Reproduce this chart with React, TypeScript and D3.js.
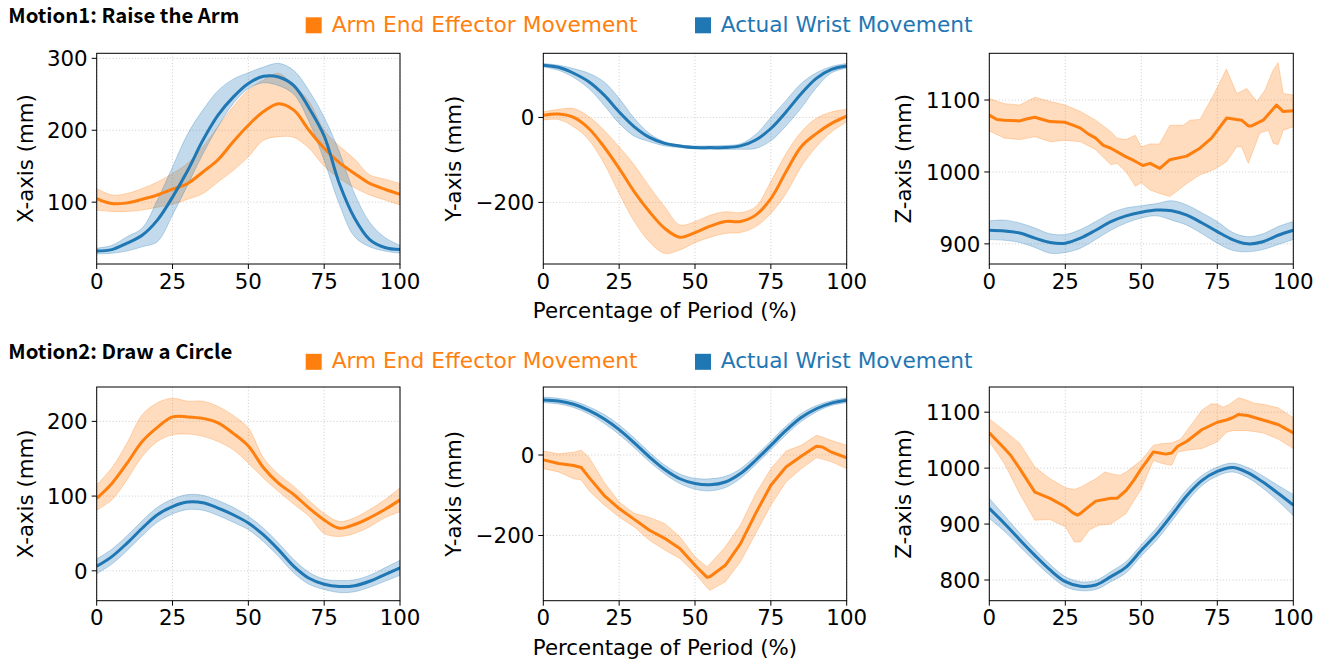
import React from 'react';
import * as d3 from 'd3';

// percentage of period, sampling grid used for the smooth traces
const pct = [0, 5, 10, 15, 20, 25, 30, 35, 40, 45, 50, 55, 60, 65, 70, 75, 80, 85, 90, 95, 100];

// ---- Motion1: Raise the Arm ----
// X-axis
const m1xBlue = [32, 34, 43, 54, 75, 107, 144, 186, 221, 246, 265, 275, 274, 262, 231, 192, 126, 78, 48, 37, 34];
const m1xBlueHi = [36, 40, 52, 64, 103, 149, 195, 228, 255, 271, 280, 288, 293, 283, 255, 218, 170, 112, 72, 51, 40];
const m1xBlueLo = [28, 29, 32, 38, 45, 82, 124, 167, 205, 237, 258, 266, 262, 250, 212, 158, 97, 52, 38, 32, 29];
const m1xOrange = [105, 98, 99, 104, 110, 118, 126, 142, 159, 184, 207, 226, 237, 228, 200, 175, 155, 140, 126, 118, 111];
const m1xOrangeHi = [119, 110, 112, 119, 128, 140, 154, 177, 205, 233, 256, 270, 279, 262, 240, 200, 178, 160, 138, 132, 126];
const m1xOrangeLo = [89, 87, 87, 89, 93, 97, 104, 112, 128, 144, 163, 186, 191, 190, 175, 150, 133, 120, 110, 103, 96];

// Y-axis
const m1yBlue = [123, 118, 104, 84, 53, 13, -22, -47, -61, -67, -71, -71, -71, -67, -53, -26, 13, 56, 92, 113, 121];
const m1yBlueHi = [127, 123, 115, 104, 84, 45, -2, -38, -57, -65, -67, -67, -66, -62, -40, 0, 40, 80, 105, 120, 127];
const m1yBlueLo = [119, 111, 94, 68, 29, -14, -44, -57, -67, -71, -74, -75, -75, -75, -73, -55, -20, 22, 70, 105, 116];
const m1yOrange = [5, 8, 0, -26, -69, -120, -175, -222, -261, -282, -271, -256, -245, -245, -230, -191, -128, -69, -38, -14, 3];
const m1yOrangeHi = [13, 19, 21, 2, -30, -69, -112, -163, -210, -253, -245, -230, -222, -224, -210, -151, -85, -34, -2, 13, 19];
const m1yOrangeLo = [-6, -5, -22, -53, -108, -179, -245, -293, -320, -312, -295, -282, -273, -271, -257, -226, -179, -116, -69, -34, -10];

// Z-axis
const m1zBlue = [919, 918, 915, 908, 902, 901, 908, 919, 931, 939, 944, 947, 946, 940, 929, 917, 906, 900, 903, 912, 919];
const m1zBlueHi = [932, 933, 929, 922, 914, 913, 920, 931, 943, 950, 953, 956, 960, 954, 943, 931, 916, 910, 914, 924, 931];
const m1zBlueLo = [906, 905, 902, 895, 887, 888, 894, 906, 919, 929, 936, 939, 933, 926, 914, 901, 891, 889, 892, 899, 906];
const m1zOrangeX = [0, 2.5, 5, 10, 12.5, 15, 17.5, 20, 25, 27.5, 30, 32.5, 35, 37.5, 40, 45, 47.5, 50.5, 52.9, 56.1, 59.4, 64.9, 69.3, 73.1, 78.1, 83, 85.2, 86.3, 90.1, 94.5, 96.7, 100];
const m1zOrange = [1079, 1073, 1072, 1071, 1074, 1076, 1073, 1070, 1069, 1065, 1061, 1053, 1047, 1037, 1033, 1021, 1016, 1009, 1012, 1005, 1017, 1022, 1033, 1047, 1075, 1072, 1064, 1064, 1072, 1093, 1084, 1085];
const m1zOrangeHiX = [0, 5, 10, 15, 20, 25, 30, 35, 40, 42, 45, 48, 50, 52.9, 56, 59.4, 63.8, 66, 69.3, 73.5, 78, 81.4, 84.7, 88, 90.7, 93.4, 95, 96.7, 100];
const m1zOrangeHi = [1102, 1095, 1093, 1104, 1098, 1093, 1084, 1072, 1056, 1047, 1045, 1051, 1035, 1039, 1039, 1065, 1065, 1072, 1073, 1105, 1143, 1109, 1116, 1098, 1114, 1142, 1152, 1109, 1107];
const m1zOrangeLoX = [0, 5, 10, 15, 20, 25, 30, 35, 40, 42, 45, 47, 48, 50, 52.9, 56, 59.4, 65, 69.3, 72, 74.6, 78, 81.4, 83, 85.2, 89, 91.8, 93.4, 95, 96.7, 100];
const m1zOrangeLo = [1057, 1047, 1045, 1049, 1042, 1044, 1042, 1031, 1010, 1012, 1000, 987, 980, 985, 975, 970, 966, 984, 996, 1000, 1005, 1014, 1035, 1035, 1012, 1054, 1058, 1040, 1038, 1058, 1063];

// ---- Motion2: Draw a Circle ----
// X-axis
const m2xBlue = [6, 19, 37, 57, 75, 86, 92, 91, 84, 75, 64, 48, 28, 6, -10, -18, -21, -20, -14, -5, 4];
const m2xBlueHi = [16, 29, 47, 67, 85, 96, 102, 101, 94, 85, 73, 57, 37, 15, -2, -11, -13, -12, -6, 4, 14];
const m2xBlueLo = [-4, 9, 27, 47, 65, 76, 82, 81, 74, 65, 55, 39, 19, -3, -18, -25, -29, -28, -22, -14, -6];
const m2xOrange = [97, 117, 144, 173, 192, 206, 206, 204, 198, 184, 167, 138, 117, 102, 84, 68, 57, 62, 71, 82, 95];
const m2xOrangeHi = [115, 138, 171, 209, 225, 231, 227, 227, 220, 208, 191, 151, 129, 113, 94, 77, 66, 71, 82, 95, 111];
const m2xOrangeLo = [81, 95, 122, 153, 173, 182, 183, 180, 173, 162, 144, 124, 106, 89, 73, 50, 46, 50, 59, 71, 79];

// Y-axis
const m2yBlue = [137, 134, 126, 111, 90, 63, 30, -5, -36, -59, -71, -74, -67, -46, -13, 24, 61, 93, 115, 129, 136];
const m2yBlueHi = [144, 141, 134, 120, 101, 75, 42, 7, -25, -47, -58, -59, -53, -34, -2, 35, 72, 103, 123, 135, 142];
const m2yBlueLo = [130, 127, 118, 102, 79, 51, 18, -17, -47, -71, -85, -89, -81, -58, -24, 13, 50, 83, 107, 123, 130];
const m2yOrangeX = [0, 5, 10, 12.5, 15, 20, 25, 30, 35, 40, 45, 50, 54, 55, 60, 65, 70, 75, 80, 85, 90, 92, 95, 100];
const m2yOrange = [-12, -21, -26, -31, -55, -100, -133, -160, -187, -207, -232, -274, -304, -302, -274, -220, -145, -75, -30, -3, 22, 20, 7, -7];
const m2yOrangeHi = [10, 3, 7, 12, -5, -67, -117, -145, -155, -170, -203, -253, -278, -270, -228, -174, -96, -34, 10, 24, 49, 45, 36, 24];
const m2yOrangeLo = [-34, -42, -59, -62, -88, -124, -154, -179, -212, -236, -257, -294, -330, -336, -315, -265, -195, -125, -67, -34, -7, -10, -17, -34];

// Z-axis
const m2zBlue = [928, 901, 872, 844, 818, 797, 789, 791, 806, 823, 853, 882, 916, 951, 978, 994, 1001, 992, 975, 955, 934];
const m2zBlueHi = [946, 915, 884, 855, 828, 806, 797, 799, 815, 833, 863, 893, 927, 962, 987, 1002, 1009, 1001, 986, 969, 953];
const m2zBlueLo = [910, 887, 860, 833, 808, 788, 781, 783, 797, 813, 843, 871, 905, 940, 969, 986, 993, 983, 964, 941, 915];
const m2zOrangeX = [0, 5, 7, 10, 15, 20, 25, 27.5, 29, 30, 32, 35, 40, 42, 45, 47.5, 50, 52, 54, 56, 58, 60, 62, 65, 70, 75, 78, 80, 82, 85, 90, 95, 100];
const m2zOrange = [1063, 1035, 1023, 999, 957, 946, 931, 920, 916, 919, 928, 941, 946, 946, 960, 978, 999, 1014, 1029, 1027, 1025, 1027, 1039, 1048, 1069, 1082, 1086, 1090, 1096, 1094, 1086, 1078, 1063];
const m2zOrangeHiX = [0, 5, 10, 15, 20, 25, 28, 30, 35, 38, 40, 43, 45, 50, 54, 57, 60, 63, 65, 70, 73, 75, 77, 79, 82, 85, 87, 90, 95, 100];
const m2zOrangeHi = [1088, 1067, 1044, 1002, 981, 965, 962, 966, 981, 993, 990, 987, 993, 1014, 1041, 1044, 1045, 1052, 1067, 1104, 1115, 1114, 1109, 1114, 1126, 1121, 1116, 1114, 1108, 1090];
const m2zOrangeLoX = [0, 5, 10, 15, 20, 25, 28, 30, 33, 36, 40, 45, 50, 54, 57, 60, 62, 65, 70, 75, 78, 80, 85, 90, 95, 100];
const m2zOrangeLo = [1047, 1008, 954, 907, 908, 895, 868, 868, 890, 898, 900, 919, 963, 1014, 1008, 1005, 1029, 1032, 1035, 1047, 1064, 1067, 1067, 1063, 1052, 1035];

// axis limits and ticks
const xTicks = [0, 25, 50, 75, 100];
const yDomains = [[14, 307], [-345, 151], [872, 1165], [-40, 246], [-362, 169], [763, 1145]];
const yTicksList = [[100, 200, 300], [-200, 0], [900, 1000, 1100], [0, 100, 200], [-200, 0], [800, 900, 1000, 1100]];
const yLabels = ['X-axis (mm)', 'Y-axis (mm)', 'Z-axis (mm)', 'X-axis (mm)', 'Y-axis (mm)', 'Z-axis (mm)'];
const titles = ['Motion1: Raise the Arm', 'Motion2: Draw a Circle'];
const legendNames = ['Arm End Effector Movement', 'Actual Wrist Movement'];
const xLabel = 'Percentage of Period (%)';

const ORANGE = '#ff7f0e';
const BLUE = '#1f77b4';
const FONT = 'DejaVu Sans, sans-serif';
const FS = 21.33;

const colLeft = [96.7, 543.3, 989.3];
const colRight = [400, 846.7, 1293.3];
const rowTop = [53.3, 387];
const rowBottom = [264, 600.7];
const yLabelX = [32.5, 461, 911];
const rowShift = 336.5;

type Trace = { x: number[]; y: number[] };
type Series = { color: string; mean: Trace; hi: Trace; lo: Trace; smooth: boolean };

const panels: Series[][] = [
  [
    { color: ORANGE, smooth: true, mean: { x: pct, y: m1xOrange }, hi: { x: pct, y: m1xOrangeHi }, lo: { x: pct, y: m1xOrangeLo } },
    { color: BLUE, smooth: true, mean: { x: pct, y: m1xBlue }, hi: { x: pct, y: m1xBlueHi }, lo: { x: pct, y: m1xBlueLo } },
  ],
  [
    { color: ORANGE, smooth: true, mean: { x: pct, y: m1yOrange }, hi: { x: pct, y: m1yOrangeHi }, lo: { x: pct, y: m1yOrangeLo } },
    { color: BLUE, smooth: true, mean: { x: pct, y: m1yBlue }, hi: { x: pct, y: m1yBlueHi }, lo: { x: pct, y: m1yBlueLo } },
  ],
  [
    { color: ORANGE, smooth: false, mean: { x: m1zOrangeX, y: m1zOrange }, hi: { x: m1zOrangeHiX, y: m1zOrangeHi }, lo: { x: m1zOrangeLoX, y: m1zOrangeLo } },
    { color: BLUE, smooth: true, mean: { x: pct, y: m1zBlue }, hi: { x: pct, y: m1zBlueHi }, lo: { x: pct, y: m1zBlueLo } },
  ],
  [
    { color: ORANGE, smooth: true, mean: { x: pct, y: m2xOrange }, hi: { x: pct, y: m2xOrangeHi }, lo: { x: pct, y: m2xOrangeLo } },
    { color: BLUE, smooth: true, mean: { x: pct, y: m2xBlue }, hi: { x: pct, y: m2xBlueHi }, lo: { x: pct, y: m2xBlueLo } },
  ],
  [
    { color: ORANGE, smooth: false, mean: { x: m2yOrangeX, y: m2yOrange }, hi: { x: m2yOrangeX, y: m2yOrangeHi }, lo: { x: m2yOrangeX, y: m2yOrangeLo } },
    { color: BLUE, smooth: true, mean: { x: pct, y: m2yBlue }, hi: { x: pct, y: m2yBlueHi }, lo: { x: pct, y: m2yBlueLo } },
  ],
  [
    { color: ORANGE, smooth: false, mean: { x: m2zOrangeX, y: m2zOrange }, hi: { x: m2zOrangeHiX, y: m2zOrangeHi }, lo: { x: m2zOrangeLoX, y: m2zOrangeLo } },
    { color: BLUE, smooth: true, mean: { x: pct, y: m2zBlue }, hi: { x: pct, y: m2zBlueHi }, lo: { x: pct, y: m2zBlueLo } },
  ],
];

const pts = (t: Trace): [number, number][] => t.x.map((x, i) => [x, t.y[i]]);

function Panel({ idx }: { idx: number }) {
  const col = idx % 3;
  const row = Math.floor(idx / 3);
  const left = colLeft[col], right = colRight[col];
  const top = rowTop[row], bottom = rowBottom[row];
  const x = d3.scaleLinear().domain([0, 100]).range([left, right]);
  const y = d3.scaleLinear().domain(yDomains[idx]).range([bottom, top]);
  const series = panels[idx];
  const clipId = `clip${idx}`;

  const bandPath = (s: Series) => {
    if (s.hi.x === s.lo.x) {
      const area = d3.area<number>()
        .x((_, i) => x(s.hi.x[i]))
        .y0((_, i) => y(s.lo.y[i]))
        .y1((_, i) => y(s.hi.y[i]))
        .curve(s.smooth ? d3.curveCatmullRom : d3.curveLinear);
      return area(s.hi.x) || '';
    }
    const poly = pts(s.hi).concat(pts(s.lo).reverse());
    return d3.line<[number, number]>().x(d => x(d[0])).y(d => y(d[1])).curve(d3.curveLinearClosed)(poly) || '';
  };
  const linePath = (s: Series) =>
    d3.line<[number, number]>().x(d => x(d[0])).y(d => y(d[1]))
      .curve(s.smooth ? d3.curveCatmullRom : d3.curveLinear)(pts(s.mean)) || '';

  const fmt = (v: number) => (v < 0 ? '\u2212' + Math.abs(v) : String(v));

  return (
    <g>
      <defs>
        <clipPath id={clipId}>
          <rect x={left} y={top} width={right - left} height={bottom - top} />
        </clipPath>
      </defs>
      {xTicks.map(t => (
        <line key={'gx' + t} x1={x(t)} x2={x(t)} y1={top} y2={bottom} stroke="#b0b0b0" strokeOpacity={0.8} strokeWidth={0.8} strokeDasharray="1,2.2" />
      ))}
      {yTicksList[idx].map(t => (
        <line key={'gy' + t} x1={left} x2={right} y1={y(t)} y2={y(t)} stroke="#b0b0b0" strokeOpacity={0.8} strokeWidth={0.8} strokeDasharray="1,2.2" />
      ))}
      <g clipPath={`url(#${clipId})`}>
        {series.map((s, i) => (
          <path key={'b' + i} d={bandPath(s)} fill={s.color} fillOpacity={0.27} stroke={s.color} strokeOpacity={0.27} strokeWidth={1} />
        ))}
        {series.map((s, i) => (
          <path key={'l' + i} d={linePath(s)} fill="none" stroke={s.color} strokeWidth={3} strokeLinejoin="round" />
        ))}
      </g>
      <rect x={left} y={top} width={right - left} height={bottom - top} fill="none" stroke="#000" strokeWidth={1} />
      {xTicks.map(t => (
        <g key={'tx' + t}>
          <line x1={x(t)} x2={x(t)} y1={bottom} y2={bottom + 5} stroke="#000" strokeWidth={1} />
          <text x={x(t)} y={bottom + 24.5} textAnchor="middle" fontSize={FS} fontFamily={FONT}>{t}</text>
        </g>
      ))}
      {yTicksList[idx].map(t => (
        <g key={'ty' + t}>
          <line x1={left - 5} x2={left} y1={y(t)} y2={y(t)} stroke="#000" strokeWidth={1} />
          <text x={left - 9} y={y(t) + 7.7} textAnchor="end" fontSize={FS} fontFamily={FONT}>{fmt(t)}</text>
        </g>
      ))}
      <text transform={`translate(${yLabelX[col]},${(top + bottom) / 2}) rotate(-90)`} textAnchor="middle" fontSize={FS} fontFamily={FONT}>
        {yLabels[idx]}
      </text>
      {col === 1 && (
        <text x={665} y={bottom + 54} textAnchor="middle" fontSize={FS} fontFamily={FONT}>{xLabel}</text>
      )}
    </g>
  );
}

function Header({ row }: { row: number }) {
  const dy = row * rowShift;
  return (
    <g transform={`translate(0,${dy})`}>
      <text x={8.3} y={22.7} fontSize={20} fontWeight="bold" fontFamily="'Noto Sans CJK SC', 'Noto Sans', sans-serif"
        textLength={row === 0 ? 231 : 224} lengthAdjust="spacingAndGlyphs">{titles[row]}</text>
      <rect x={305.7} y={17.3} width={16} height={16} fill={ORANGE} />
      <text x={331.7} y={31.7} fontSize={21.7} fontFamily={FONT} fill={ORANGE}>{legendNames[0]}</text>
      <rect x={695} y={17.3} width={16} height={16} fill={BLUE} />
      <text x={720.7} y={31.7} fontSize={21.7} fontFamily={FONT} fill={BLUE}>{legendNames[1]}</text>
    </g>
  );
}

export default function App() {
  return (
    <svg width={1326} height={661} style={{ position: 'absolute', left: 0, top: 0, background: '#fff' }}>
      <rect width={1326} height={661} fill="#fff" />
      <Header row={0} />
      <Header row={1} />
      {panels.map((_, i) => <Panel key={i} idx={i} />)}
    </svg>
  );
}
